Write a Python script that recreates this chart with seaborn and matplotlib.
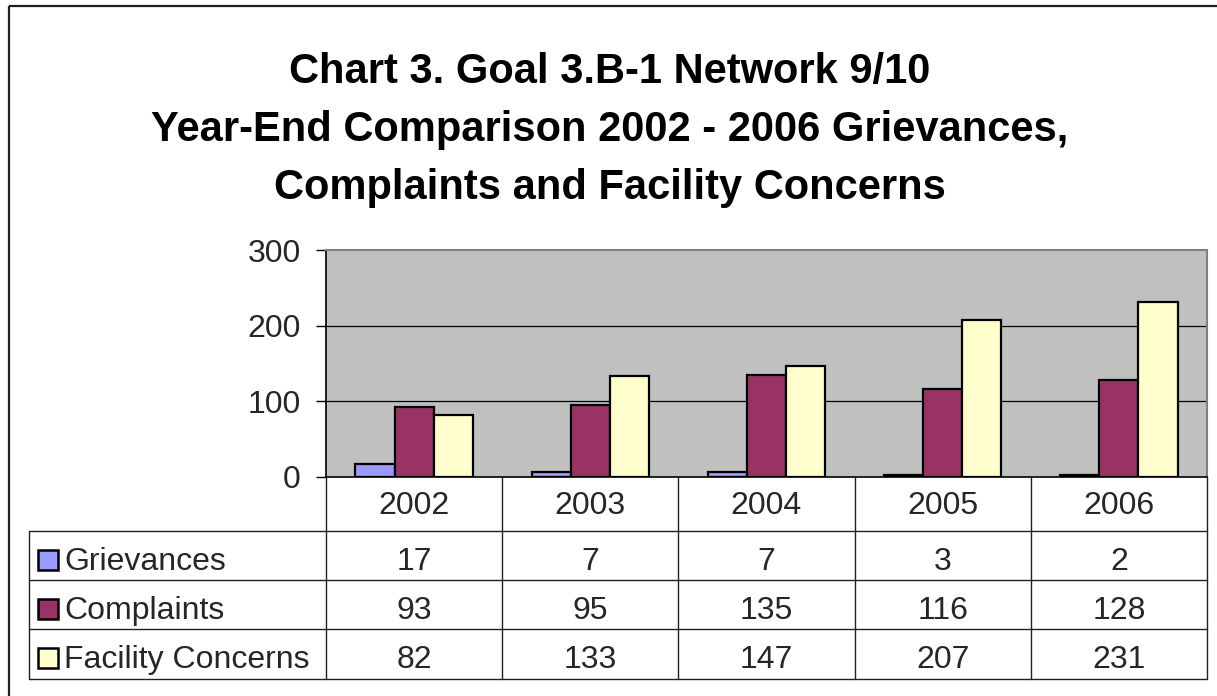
import matplotlib
matplotlib.use("Agg")
import matplotlib.pyplot as plt
import seaborn as sns
import pandas as pd
from matplotlib.patches import Rectangle

years = ["2002", "2003", "2004", "2005", "2006"]
series_names = ["Grievances", "Complaints", "Facility Concerns"]
grievances = [17, 7, 7, 3, 2]
complaints = [93, 95, 135, 116, 128]
facility = [82, 133, 147, 207, 231]
colors = ["#9999FF", "#993366", "#FFFFCC"]
title_lines = ["Chart 3. Goal 3.B-1 Network 9/10",
               "Year-End Comparison 2002 - 2006 Grievances,",
               "Complaints and Facility Concerns"]
y_ticks = [0, 100, 200, 300]

values = [grievances, complaints, facility]
df = pd.DataFrame({
    "Year": years * 3,
    "Series": [s for s in series_names for _ in years],
    "Value": grievances + complaints + facility,
})

sns.set_theme(style="white")
plt.rcParams["font.family"] = ["Liberation Sans", "DejaVu Sans"]

W, H = 1217, 696
fig = plt.figure(figsize=(W / 100, H / 100), dpi=100)

# overlay axes in pixel coordinates for frame, title and table
ov = fig.add_axes([0, 0, 1, 1], zorder=0)
ov.set_xlim(0, W)
ov.set_ylim(H, 0)
ov.axis("off")

# plot area
L, R, T, B = 326, 1207, 250, 477
ax = fig.add_axes([L / W, 1 - B / H, (R - L) / W, (B - T) / H], zorder=2)
ax.set_facecolor("#C0C0C0")
sns.barplot(data=df, x="Year", y="Value", hue="Series", order=years,
            hue_order=series_names, palette=colors, width=0.667, gap=0,
            edgecolor="black", linewidth=1.6, saturation=1, ax=ax,
            legend=False, errorbar=None)
ax.set_xlim(-0.5, len(years) - 0.5)
ax.set_ylim(0, 300)
ax.set_yticks(y_ticks)
ax.set_yticklabels([str(t) for t in y_ticks], fontsize=23)
ax.set_xticks([])
ax.set_xlabel("")
ax.set_ylabel("")
for t in y_ticks[1:3]:
    ax.axhline(t, color="black", lw=0.9, zorder=0.5)
ax.set_axisbelow(True)
ax.tick_params(axis="y", length=7, width=1, color="black", pad=11,
               direction="out", left=True)
for s in ["top", "right"]:
    ax.spines[s].set_color("#808080")
    ax.spines[s].set_linewidth(1.5)
ax.spines["left"].set_color("black")
ax.spines["left"].set_linewidth(1.2)
ax.spines["bottom"].set_color("black")
ax.spines["bottom"].set_linewidth(1.2)

# outer frame (right/bottom edges fall outside image)
ov.add_patch(Rectangle((8.5, 6), 1300, 800, fill=False, ec="#202020", lw=1.6))

# title
for i, line in enumerate(title_lines):
    ov.text(W / 2 + 1, 72 + i * 58, line, ha="center", va="center",
            fontsize=30, fontweight="bold", color="black")

# data table
col_w = (R - L) / len(years)
rows_y = [477, 531, 580, 629, 679]
lc = "#202020"
for j in range(len(years) + 1):
    x = L + j * col_w
    ov.plot([x, x], [rows_y[0], rows_y[-1]], color=lc, lw=1)
for j, yr in enumerate(years):
    ov.text(L + (j + 0.5) * col_w, rows_y[0] + 37, yr,
            ha="center", va="baseline", fontsize=23)
TL = 29
for k in range(1, len(rows_y)):
    ov.plot([TL, R], [rows_y[k], rows_y[k]], color=lc, lw=1)
ov.plot([TL, TL], [rows_y[1], rows_y[-1]], color=lc, lw=1)
for i, name in enumerate(series_names):
    top = rows_y[i + 1]
    base = top + 39
    ov.add_patch(Rectangle((37.5, top + 19), 20, 20, fc=colors[i], ec="black", lw=1.8))
    ov.text(64, base, name, ha="left", va="baseline", fontsize=23)
    for j, v in enumerate(values[i]):
        ov.text(L + (j + 0.5) * col_w, base, str(v), ha="center",
                va="baseline", fontsize=23)

fig.savefig("out.png", dpi=100)
